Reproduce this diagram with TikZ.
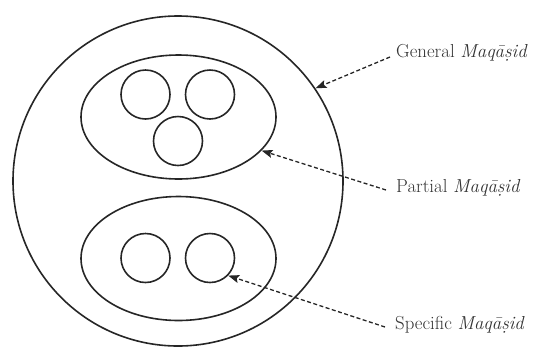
\documentclass[tikz,border=0pt]{standalone}
\usetikzlibrary{shapes.geometric,arrows.meta}
\begin{document}
\begin{tikzpicture}[x=1pt,y=-1pt,
  shapeline/.style={draw=black!85,line width=1.6pt,inner sep=0pt},
  bigcirc/.style={shapeline,circle,minimum size=330pt},
  oval/.style={shapeline,ellipse,minimum width=195pt,minimum height=124pt},
  small/.style={shapeline,circle,minimum size=49pt},
  lbl/.style={anchor=west,inner sep=0pt,font=\fontsize{18.8}{21}\selectfont,text=black!80},
  pointer/.style={draw=black!85,line width=1.3pt,dash pattern=on 4pt off 2.5pt,-{Stealth[length=11pt,width=8pt,inset=2pt]}}]
\useasboundingbox (0,0) rectangle (534,349);
\node[bigcirc] (outer) at (178,181) {};
\node[oval] (top) at (178.5,117) {};
\node[oval] (bot) at (178.5,258.5) {};
\node[small] (t1) at (145.5,94.5) {};
\node[small] (t2) at (210,94.5) {};
\node[small] (t3) at (178,141) {};
\node[small] (b1) at (145.5,258) {};
\node[small] (b2) at (210,258) {};
\node[lbl] (lg) at (396,53) {General \textit{Maqāṣid}};
\node[lbl] (lp) at (396,188) {Partial \textit{Maqāṣid}};
\node[lbl] (ls) at (395,325) {Specific \textit{Maqāṣid}};
\draw[pointer] ([xshift=-6pt,yshift=-4pt]lg.west) -- (outer.34.6);
\draw[pointer] ([xshift=-10pt,yshift=-2pt]lp.west) -- (top.-22);
\draw[pointer] ([xshift=-10pt,yshift=-2pt]ls.west) -- (b2.-44.5);
\end{tikzpicture}
\end{document}
